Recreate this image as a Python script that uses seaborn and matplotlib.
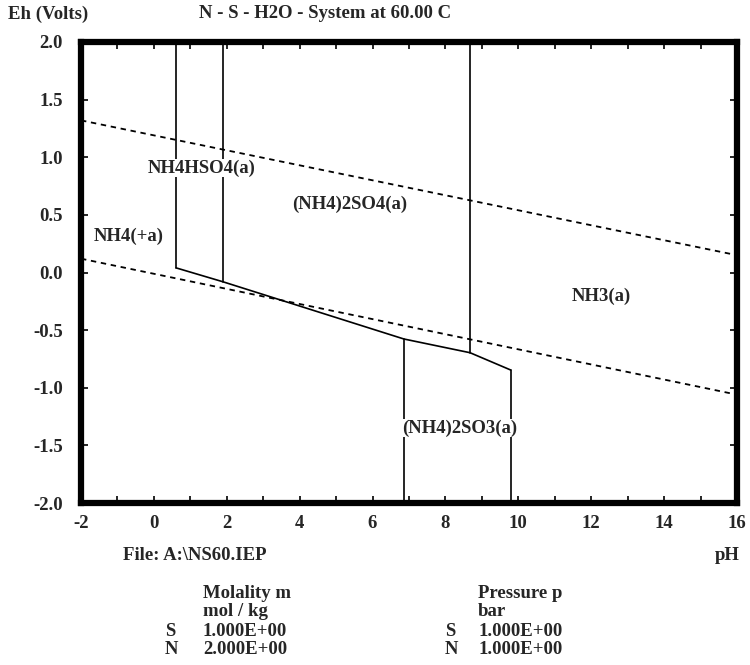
import matplotlib
matplotlib.use("Agg")
import matplotlib.pyplot as plt
import seaborn as sns
import pandas as pd

# ---- data ----
ph_limits = [-2, 16]
eh_limits = [-2.0, 2.0]
x_ticks = [-2, 0, 2, 4, 6, 8, 10, 12, 14, 16]
x_tick_labels = ["-2", "0", "2", "4", "6", "8", "10", "12", "14", "16"]
y_ticks = [2.0, 1.5, 1.0, 0.5, 0.0, -0.5, -1.0, -1.5, -2.0]
y_tick_labels = ["2.0", "1.5", "1.0", "0.5", "0.0", "-0.5", "-1.0", "-1.5", "-2.0"]

# sloped solid boundary
boundary_ph = [0.61, 1.89, 6.86, 8.675, 9.79]
boundary_eh = [0.04, -0.08, -0.577, -0.696, -0.846]

# vertical boundaries: pH, Eh from, Eh to
vert_ph = [0.61, 1.89, 8.675, 6.86, 9.79]
vert_eh_from = [2.0, 2.0, 2.0, -0.577, -0.846]
vert_eh_to = [0.04, -0.08, -0.696, -2.0, -2.0]

# water stability lines
water_ph = [-2, 16]
o2_eh = [1.32, 0.15]
h2_eh = [0.12, -1.06]

# region labels
region_names = ["NH4HSO4(a)", "(NH4)2SO4(a)", "NH4(+a)", "NH3(a)", "(NH4)2SO3(a)"]
region_ph = [1.31, 5.37, -0.68, 12.27, 8.40]
region_eh = [0.905, 0.594, 0.317, -0.21, -1.35]

title_text = "N - S - H2O - System at 60.00 C"
ylabel_text = "Eh (Volts)"
xlabel_text = "pH"
file_text = "File: A:\\NS60.IEP"
molality_head = ["Molality m", "mol / kg"]
molality_elem = ["S", "N"]
molality_vals = ["1.000E+00", "2.000E+00"]
pressure_head = ["Pressure p", "bar"]
pressure_elem = ["S", "N"]
pressure_vals = ["1.000E+00", "1.000E+00"]

# ---- drawing ----
sns.set_theme(style="white")
plt.rcParams["font.family"] = ["Liberation Serif", "DejaVu Serif"]
plt.rcParams["font.weight"] = "bold"

FS = 13.5
W, H = 750, 665
fig = plt.figure(figsize=(W / 100, H / 100), dpi=100)
ax = fig.add_axes([81 / W, 1 - 503 / H, 656 / W, 461 / H])

lw = 1.2
df_b = pd.DataFrame({"pH": boundary_ph, "Eh": boundary_eh})
sns.lineplot(data=df_b, x="pH", y="Eh", sort=False, estimator=None,
             color="black", lw=lw, ax=ax)
for p, e0, e1 in zip(vert_ph, vert_eh_from, vert_eh_to):
    d = pd.DataFrame({"pH": [p, p], "Eh": [e0, e1]})
    sns.lineplot(data=d, x="pH", y="Eh", sort=False, estimator=None,
                 color="black", lw=lw, ax=ax)
for eh in (o2_eh, h2_eh):
    d = pd.DataFrame({"pH": water_ph, "Eh": eh})
    sns.lineplot(data=d, x="pH", y="Eh", sort=False, estimator=None,
                 color="black", lw=1.3, linestyle=(0, (3, 2.6)), ax=ax)

for name, p, e in zip(region_names, region_ph, region_eh):
    ax.text(p, e, name, ha="center", va="center", fontsize=FS, fontweight="bold",
            zorder=5, bbox=dict(facecolor="white", edgecolor="none", pad=0.3))

ax.set_xlim(ph_limits)
ax.set_ylim(eh_limits)
ax.set_xticks(x_ticks)
ax.set_xticklabels(x_tick_labels, fontsize=FS, fontweight="bold")
ax.set_xticks(list(range(ph_limits[0], ph_limits[1] + 1)), minor=True)
ax.set_yticks(y_ticks)
ax.set_yticklabels(y_tick_labels, fontsize=FS, fontweight="bold")
ax.tick_params(axis="both", which="both", direction="in", length=5, width=1.2,
               color="black", top=True, right=True, bottom=True, left=True)
ax.tick_params(axis="x", which="major", pad=9)
ax.tick_params(axis="y", which="major", pad=13)
ax.set_xlabel("")
ax.set_ylabel("")
for s in ax.spines.values():
    s.set_visible(True)
    s.set_linewidth(4.5)
    s.set_color("black")

def ftxt(x, y, s, ha="left", size=FS):
    fig.text(x / W, 1 - y / H, s, ha=ha, va="center", fontsize=size, fontweight="bold")

ftxt(8, 14, ylabel_text)
ftxt(325, 14, title_text, ha="center")
ftxt(123, 555, file_text)
ftxt(740, 555, xlabel_text, ha="right")

rows_y = [593, 612, 631, 650]
for i, h in enumerate(molality_head):
    ftxt(203, rows_y[i], h)
for i, (el, v) in enumerate(zip(molality_elem, molality_vals)):
    ftxt(165, rows_y[2 + i], el)
    ftxt(203, rows_y[2 + i], v)
for i, h in enumerate(pressure_head):
    ftxt(478, rows_y[i], h)
for i, (el, v) in enumerate(zip(pressure_elem, pressure_vals)):
    ftxt(445, rows_y[2 + i], el)
    ftxt(478, rows_y[2 + i], v)

fig.savefig("out.png", dpi=100, facecolor="white")
